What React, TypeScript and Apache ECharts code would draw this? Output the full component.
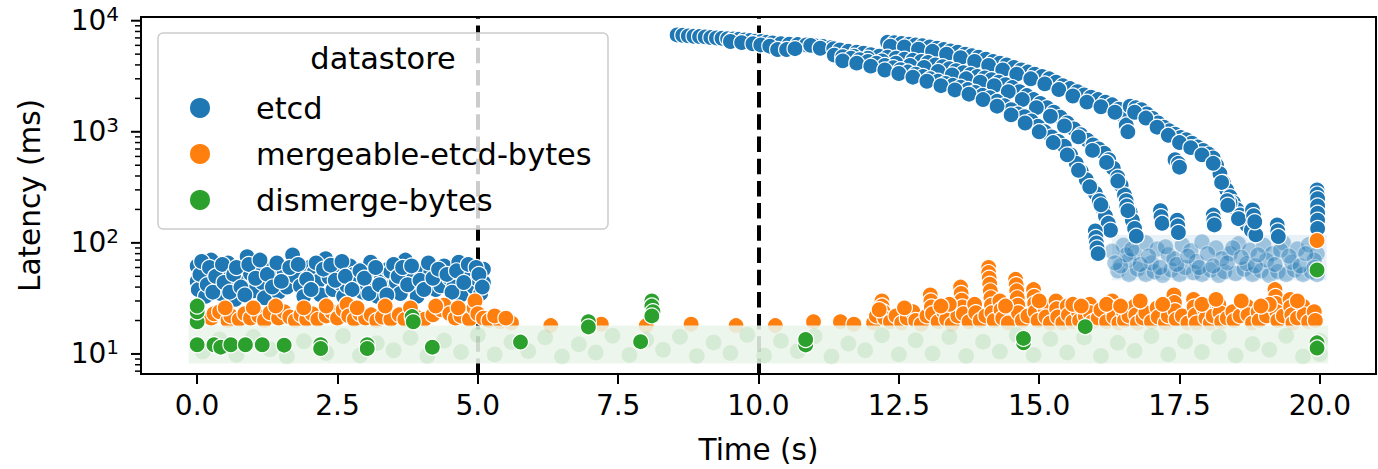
import { useEffect, useRef } from 'react';
import * as echarts from 'echarts';

const FONT = 'DejaVu Sans';
const TICK_FS = 28;
const NAME_FS = 29.5;
const LEGEND_FS = 30.4;
const BLUE = '#1f77b4';
const ORANGE = '#ff7f0e';
const GREEN = '#2ca02c';

const xTicks = [0, 2.5, 5, 7.5, 10, 12.5, 15, 17.5, 20];
const yMajorTicks = [10, 100, 1000, 10000];
const yMinorTicks = [7, 8, 9, 20, 30, 40, 50, 60, 70, 80, 90, 200, 300, 400, 500, 600, 700, 800, 900, 2000, 3000, 4000, 5000, 6000, 7000, 8000, 9000];
const phaseLines = [5, 10];

// etcd: warm-up cluster
const etcdEarly = [
  [0.0, 62], [0.0, 45], [0.02, 38], [0.1, 55], [0.15, 33], [0.2, 48], [0.25, 70], [0.3, 40], [0.36, 58], [0.42, 35],
  [0.5, 50], [0.55, 66], [0.6, 42], [0.68, 31], [0.75, 56], [0.8, 46], [0.89, 75], [0.95, 53], [1.0, 37], [1.08, 62],
  [1.16, 44], [1.2, 32], [1.3, 57], [1.38, 48], [1.45, 36], [1.55, 55], [1.6, 40], [1.7, 78], [1.75, 50], [1.84, 41],
  [1.9, 33], [2.0, 60], [2.08, 54], [2.15, 45], [2.2, 34], [2.29, 72], [2.35, 49], [2.42, 38], [2.5, 55], [2.55, 43],
  [2.61, 33], [2.67, 41], [2.72, 62], [2.79, 52], [2.85, 46], [2.95, 36], [3.03, 41], [3.09, 67], [3.15, 53], [3.21, 33],
  [3.28, 47], [3.33, 40], [3.4, 58], [3.45, 55], [3.55, 44], [3.62, 35], [3.71, 70], [3.78, 50], [3.86, 40], [3.92, 33],
  [4.0, 56], [4.08, 46], [4.16, 54], [4.25, 38], [4.34, 41], [4.4, 62], [4.5, 48], [4.57, 40], [4.66, 67], [4.7, 34],
  [4.8, 52], [4.87, 55], [4.93, 40], [5.0, 47], [5.05, 35], [5.1, 44], [5.1, 58],
];
const etcdEarlyMore = [
  [0.05, 52], [0.08, 68], [0.18, 42], [0.22, 60], [0.28, 36], [0.33, 50], [0.45, 64], [0.48, 44], [0.58, 36], [0.65, 52],
  [0.7, 60], [0.78, 40], [0.85, 34], [0.92, 64], [1.04, 48], [1.12, 70], [1.25, 52], [1.34, 40], [1.42, 66], [1.5, 45],
  [1.65, 60], [1.8, 64], [1.95, 47], [2.03, 38], [2.12, 66], [2.25, 58], [2.38, 63], [2.46, 46], [2.58, 68], [2.64, 50],
  [2.76, 38], [2.9, 56], [2.98, 48], [3.06, 35], [3.18, 60], [3.25, 42], [3.38, 34], [3.5, 64], [3.58, 50], [3.66, 60],
  [3.75, 42], [3.82, 62], [3.97, 46], [4.04, 38], [4.12, 66], [4.2, 48], [4.3, 58], [4.45, 52], [4.54, 36], [4.62, 56],
  [4.75, 44], [4.83, 64], [4.97, 60], [5.02, 52], [5.08, 40],
];
// etcd: the slow shared start after the restart
const etcdTrunk = [
  [8.55, 7450], [8.65, 7400], [8.75, 7300], [8.85, 7250], [8.95, 7200], [9.05, 7150], [9.15, 7050], [9.25, 7000],
  [9.35, 6950], [9.45, 6900], [9.55, 6850], [9.65, 6800], [9.75, 6700], [9.85, 6650], [9.95, 6550], [10.05, 6500],
  [10.15, 6400], [10.25, 6300], [10.4, 6200], [10.55, 6150], [10.7, 6100], [10.85, 6050], [11.0, 5950], [11.15, 5850],
  [11.3, 5750], [9.5, 6500], [9.7, 6350], [9.9, 6200], [10.04, 6050], [10.2, 5900], [10.34, 5500], [10.5, 5500],
  [10.65, 5600], [10.93, 6000], [11.1, 5650], [11.34, 5600],
];
const etcdArcA = [
  [12.3, 6400], [12.42, 6350], [12.55, 6250], [12.68, 6150], [12.8, 6050], [12.92, 5950], [13.05, 5800], [13.18, 5650],
  [13.3, 5500], [13.42, 5350], [13.55, 5200], [13.68, 5000], [13.8, 4850], [13.92, 4700], [14.05, 4500], [14.18, 4300],
  [14.3, 4150], [14.42, 4000], [14.55, 3800], [14.68, 3600], [14.8, 3450], [14.92, 3300], [15.05, 3150], [15.18, 3000],
  [15.3, 2800], [15.42, 2600], [15.55, 2450], [15.68, 2300], [15.8, 2150], [15.92, 2050], [16.05, 1950], [16.18, 1850],
  [16.3, 1750], [16.42, 1600], [16.5, 1400], [16.55, 1150], [16.58, 1000],
];
const etcdArcA2 = [
  [12.35, 5900], [12.6, 5800], [12.85, 5550], [13.1, 5300], [13.35, 5000], [13.6, 4650], [13.85, 4300], [14.1, 3950],
  [14.35, 3600], [14.6, 3300], [14.85, 3000], [15.1, 2700], [15.35, 2400], [15.6, 2100], [15.85, 1850], [16.1, 1680],
  [16.35, 1500],
];
const etcdArcD = [
  [16.62, 1700], [16.72, 1650], [16.82, 1580], [16.92, 1450], [17.02, 1320], [17.12, 1200], [17.22, 1100], [17.32, 1020],
  [17.42, 950], [17.52, 890], [17.62, 850], [17.72, 790], [17.82, 730], [17.92, 680], [18.02, 630], [18.1, 580],
  [18.16, 500], [18.22, 420], [18.28, 350], [18.34, 300], [18.4, 260], [18.46, 230], [18.52, 200], [18.58, 178],
  [18.64, 160], [18.7, 145], [18.78, 130], [18.86, 118], [17.42, 560], [17.48, 520], [17.5, 480],
];
const etcdArcD2 = [
  [16.7, 1500], [16.9, 1330], [17.1, 1100], [17.3, 930], [17.5, 800], [17.7, 720], [17.9, 620], [18.1, 520],
  [18.25, 350], [18.4, 230], [18.55, 165],
];
const etcdArcB = [
  [11.45, 5450], [11.6, 5300], [11.75, 5200], [11.87, 5100], [12.0, 4950], [12.15, 4800], [12.3, 4700], [12.45, 4600],
  [12.6, 4500], [12.75, 4400], [12.9, 4300], [13.02, 4200], [13.15, 4000], [13.28, 3850], [13.4, 3700], [13.52, 3550],
  [13.65, 3400], [13.78, 3280], [13.9, 3150], [14.03, 3050], [14.15, 2950], [14.28, 2800], [14.4, 2650], [14.52, 2500],
  [14.65, 2300], [14.78, 2120], [14.9, 1950], [15.02, 1800], [15.14, 1650], [15.26, 1500], [15.38, 1350], [15.5, 1200],
  [15.62, 1060], [15.74, 940], [15.86, 840], [15.96, 760], [16.06, 700], [16.16, 640], [16.24, 560], [16.32, 470],
  [16.4, 390], [16.46, 330], [16.52, 270], [16.57, 225], [16.62, 190], [16.66, 160], [16.7, 135], [16.73, 115],
];
const etcdArcB2 = [
  [11.7, 4800], [11.95, 4600], [12.2, 4350], [12.45, 4150], [12.7, 3950], [12.95, 3800], [13.2, 3500], [13.45, 3250],
  [13.7, 3000], [13.95, 2800], [14.2, 2600], [14.45, 2300], [14.7, 1950], [14.95, 1650], [15.2, 1380], [15.45, 1130],
  [15.7, 900], [15.95, 680], [16.2, 530], [16.4, 360], [16.55, 230],
];
const etcdArcC = [
  [11.35, 4900], [11.5, 4750], [11.65, 4600], [11.8, 4450], [11.95, 4300], [12.1, 4150], [12.25, 3950], [12.4, 3780],
  [12.53, 3620], [12.66, 3450], [12.8, 3300], [12.93, 3150], [13.06, 3000], [13.2, 2850], [13.33, 2720], [13.46, 2620],
  [13.6, 2520], [13.73, 2400], [13.86, 2260], [13.99, 2130], [14.12, 2030], [14.25, 1880], [14.38, 1720], [14.5, 1580],
  [14.62, 1450], [14.74, 1370], [14.86, 1250], [14.98, 1120], [15.1, 1000], [15.22, 900], [15.34, 820], [15.45, 740],
  [15.56, 620], [15.66, 520], [15.75, 440], [15.84, 370], [15.92, 320], [16.0, 280], [16.07, 240], [16.13, 205],
  [16.18, 175], [16.23, 150], [16.27, 130],
];
const etcdArcC2 = [
  [11.5, 4350], [11.75, 4150], [12.0, 3900], [12.25, 3600], [12.5, 3350], [12.75, 3100], [13.0, 2850], [13.25, 2600],
  [13.5, 2380], [13.75, 2180], [14.0, 1950], [14.25, 1700], [14.5, 1420], [14.75, 1200], [15.0, 1000], [15.25, 800],
  [15.5, 620], [15.7, 450], [15.9, 320], [16.1, 220],
];
const etcdTail = [
  [16.0, 128], [16.01, 112], [16.02, 100], [16.03, 90], [16.05, 80],
  [16.55, 240], [16.56, 215], [16.58, 195],
  [17.16, 195], [17.17, 172], [17.19, 150],
  [17.46, 160], [17.47, 142], [17.48, 124],
  [18.1, 178], [18.11, 160], [18.12, 145],
  [18.35, 240], [18.36, 218],
  [18.8, 198], [18.82, 176], [18.84, 155],
  [19.24, 145], [19.25, 128], [19.26, 114],
  [19.95, 300], [19.95, 275], [19.96, 250], [19.96, 215], [19.96, 185], [19.96, 160], [19.96, 135],
];
// etcd: the flat, heavily overplotted end of the run
const etcdFlat = [
  [16.4, 56], [16.6, 52], [16.75, 58], [16.9, 52], [17.05, 55], [17.2, 51], [17.35, 57], [17.5, 52], [17.6, 60],
  [17.75, 54], [17.9, 52], [18.05, 57], [18.2, 51], [18.3, 55], [18.5, 53], [18.65, 58], [18.8, 52], [18.95, 56],
  [19.1, 51], [19.25, 55], [19.4, 52], [19.55, 57], [19.7, 52], [19.85, 55], [19.95, 52],
  [16.5, 95], [16.7, 82], [16.9, 100], [17.1, 88], [17.3, 78], [17.55, 96], [17.7, 85], [17.9, 102], [18.15, 90],
  [18.4, 80], [18.55, 98], [18.75, 86], [19.0, 95], [19.15, 80], [19.35, 100], [19.6, 88], [19.8, 96], [19.95, 80],
  [16.6, 70], [17.0, 66], [17.4, 72], [17.8, 68], [18.25, 72], [18.7, 65], [19.05, 70], [19.5, 67], [19.9, 70],
];
const etcdFlatMore = [
  [16.45, 62], [16.55, 78], [16.65, 88], [16.8, 64], [16.95, 76], [17.15, 60], [17.25, 92], [17.45, 64], [17.65, 76],
  [17.85, 60], [18.0, 80], [18.1, 62], [18.35, 66], [18.45, 90], [18.6, 74], [18.85, 62], [18.9, 78], [19.2, 64],
  [19.3, 86], [19.45, 76], [19.65, 62], [19.75, 80], [19.9, 60], [16.3, 84], [16.35, 66],
];
const etcdFlatBand = [[16.3, 46], [20.12, 118]];

const mergeableEarly = [
  [0.25, 21], [0.3, 23], [0.4, 24], [0.55, 20], [0.6, 22], [0.75, 20.5], [0.85, 23], [0.95, 21], [1.1, 22],
  [1.2, 20], [1.3, 23.5], [1.45, 21], [1.55, 24], [1.65, 21.5], [1.75, 20], [1.85, 22.5], [1.95, 20.5], [2.05, 23],
  [2.15, 20.5], [2.3, 22], [2.4, 24], [2.5, 21], [2.6, 25], [2.67, 28], [2.7, 22], [2.8, 20.5], [2.9, 23],
  [3.0, 21], [3.1, 22.5], [3.2, 20], [3.3, 21.5], [3.45, 20.5], [3.6, 22.5], [3.7, 20.5], [3.9, 21.5], [4.05, 20.5],
  [4.2, 22.5], [4.35, 25], [4.4, 27.5], [4.5, 23], [4.6, 21], [4.7, 22], [4.85, 20.5], [4.93, 26], [4.95, 30],
  [5.0, 23], [5.1, 21], [5.2, 20], [5.4, 19.5], [5.6, 19],
  [0.5, 26], [1.0, 26], [1.4, 27], [1.9, 26], [2.3, 27], [2.85, 26], [3.35, 27], [3.8, 26], [4.25, 27], [4.65, 26],
  [5.3, 22], [5.5, 21],
];
const mergeableMid = [
  [6.3, 18], [7.2, 18.5], [8.0, 18], [8.8, 18.5], [9.6, 18], [10.3, 18], [10.98, 19.5], [11.46, 19.5], [11.7, 18.5],
];
const mergeableLate = [
  [12.05, 19], [12.1, 22], [12.2, 30], [12.2, 27], [12.22, 24], [12.25, 21], [12.35, 19.5], [12.45, 22], [12.55, 19],
  [12.65, 21], [12.75, 24], [12.8, 20], [12.9, 18.5], [13.0, 22], [13.06, 34], [13.07, 30], [13.08, 26.5], [13.1, 23],
  [13.2, 19.5], [13.3, 24], [13.35, 20.5], [13.45, 18.5], [13.55, 22], [13.6, 40], [13.61, 35], [13.62, 30.5],
  [13.63, 26.5], [13.65, 23], [13.75, 19.5], [13.85, 28], [13.87, 23.5], [13.95, 20], [14.05, 22], [14.1, 60],
  [14.1, 54], [14.11, 48], [14.12, 42.5], [14.13, 37], [14.14, 32], [14.15, 27.5], [14.16, 23.5], [14.2, 20],
  [14.3, 30], [14.32, 25], [14.35, 21], [14.45, 19], [14.58, 47], [14.59, 42], [14.6, 37], [14.61, 32], [14.62, 27.5],
  [14.63, 23.5], [14.7, 20], [14.8, 22], [14.9, 38], [14.91, 33], [14.92, 28.5], [14.93, 24], [14.98, 20], [15.1, 26],
  [15.12, 21.5], [15.2, 19], [15.3, 30], [15.31, 25.5], [15.33, 21.5], [15.42, 19], [15.5, 27], [15.52, 22.5],
  [15.6, 19.5], [15.7, 24], [15.72, 20], [15.82, 22], [15.9, 28], [15.91, 23.5], [15.95, 19.5], [16.05, 21], [16.1, 25],
  [16.2, 19.5], [16.3, 30], [16.31, 26], [16.33, 21.5], [16.42, 19], [16.5, 24], [16.52, 20], [16.6, 22], [16.7, 27],
  [16.72, 22.5], [16.75, 19], [16.85, 21], [16.9, 23.5], [17.0, 19.5], [17.1, 26], [17.12, 21.5], [17.25, 19],
  [17.3, 22], [17.4, 34], [17.41, 29], [17.42, 24.5], [17.44, 20.5], [17.55, 22], [17.65, 19], [17.75, 31],
  [17.76, 26.5], [17.78, 22.5], [17.8, 19], [17.95, 25], [17.97, 21], [18.05, 19], [18.1, 22], [18.2, 28], [18.22, 23.5],
  [18.25, 19.5], [18.35, 21], [18.45, 24], [18.47, 20], [18.58, 22], [18.7, 27], [18.72, 22.5], [18.8, 19], [18.9, 24],
  [18.92, 20], [19.05, 22], [19.2, 38], [19.21, 33], [19.22, 28.5], [19.23, 24], [19.25, 20], [19.35, 22], [19.47, 31],
  [19.48, 26.5], [19.5, 22.5], [19.52, 19], [19.6, 21], [19.7, 27], [19.72, 22.5], [19.8, 19.5], [19.9, 24],
  [19.92, 20], [19.95, 105],
  [12.6, 26], [13.4, 28], [14.4, 27], [15.0, 30], [15.6, 28], [16.2, 28], [16.8, 30], [17.2, 28], [17.9, 28],
  [18.6, 30], [19.1, 28], [19.6, 30], [12.15, 25], [13.25, 27], [15.75, 27], [16.45, 27], [18.15, 31], [18.95, 27],
];

const dismergeSolid = [
  [0.0, 12.1], [0.0, 19.5], [0.0, 24], [0.0, 27], [0.3, 12.1], [0.42, 11.5], [0.6, 12.1], [0.86, 12.1], [1.16, 12.1],
  [1.55, 12], [2.2, 12.1], [2.2, 11.2], [3.03, 12.1], [3.03, 11.2], [3.83, 21.7], [3.85, 19.5], [4.19, 11.5],
  [5.76, 12.8], [6.97, 19.5], [6.97, 17.5], [7.9, 12.9], [8.1, 30], [8.1, 27], [8.12, 24], [8.1, 22], [10.84, 12.05],
  [10.84, 13.5], [14.72, 12.6], [14.72, 13.8], [15.82, 17.6], [19.95, 12.6], [19.95, 11.3], [19.95, 57],
];
// dismerge-bytes: thousands of overlapping points at ~10 ms, shown as faint marks over a pale band
const dismergeFaint = [
  [0.1, 10.5], [0.4, 13.5], [0.7, 9.8], [1.0, 14.2], [1.3, 11], [1.6, 9.5], [1.9, 13], [2.3, 10.2], [2.6, 14.5],
  [2.9, 9.7], [3.2, 12.5], [3.5, 10.8], [3.8, 14], [4.1, 9.6], [4.4, 13.2], [4.7, 10.4], [5.0, 14.8], [5.3, 9.9],
  [5.6, 12.8], [5.9, 10.6], [6.2, 14.1], [6.5, 9.5], [6.8, 12.2], [7.1, 10.3], [7.4, 14.6], [7.7, 9.8], [8.0, 13.4],
  [8.3, 10.9], [8.6, 14.3], [8.9, 9.6], [9.2, 12.7], [9.5, 10.2], [9.8, 14.9], [10.1, 9.7], [10.4, 13.1], [10.7, 10.6],
  [11.0, 14.4], [11.3, 9.5], [11.6, 12.4], [11.9, 10.8], [12.2, 14.7], [12.5, 9.9], [12.8, 13.3], [13.1, 10.1],
  [13.4, 14.2], [13.7, 9.6], [14.0, 12.9], [14.3, 10.5], [14.6, 14.8], [14.9, 9.8], [15.2, 13.6], [15.5, 10.3],
  [15.8, 14.1], [16.1, 9.6], [16.4, 12.6], [16.7, 10.7], [17.0, 14.5], [17.3, 9.9], [17.6, 13.0], [17.9, 10.4],
  [18.2, 14.3], [18.5, 9.7], [18.8, 12.3], [19.1, 10.9], [19.4, 14.6], [19.7, 9.5], [20.0, 13.2], [20.0, 10.0],
];
const dismergeBand = [[-0.15, 8.2], [20.15, 18]];

const dot = (color: string, opacity = 1) => ({ color, opacity, borderColor: '#ffffff', borderWidth: 1.2 });

const tickSeries = (values: number[], len: number, width: number) => ({
  type: 'custom',
  silent: true,
  clip: false,
  z: 6,
  data: values.map((v) => [-1, v]),
  renderItem: (_p: any, api: any) => {
    const p = api.coord([api.value(0), api.value(1)]);
    return {
      type: 'line',
      shape: { x1: p[0] - len, y1: p[1], x2: p[0], y2: p[1] },
      style: { stroke: '#000', lineWidth: width },
    };
  },
});

export default function App() {
  const ref = useRef<HTMLDivElement>(null);
  useEffect(() => {
    const chart = echarts.init(ref.current!, null, { renderer: 'svg' });
    const tickText = { fontSize: TICK_FS, fontFamily: FONT, color: '#000' };
    const nameText = { fontSize: NAME_FS, fontFamily: FONT, color: '#000' };
    chart.setOption({
      animation: false,
      backgroundColor: '#ffffff',
      grid: {
        left: 141, right: 2, top: 17, bottom: 95, containLabel: false, outerBoundsMode: 'none',
        show: true, borderColor: '#000', borderWidth: 2, backgroundColor: 'transparent',
      },
      xAxis: {
        type: 'value', min: -1, max: 21,
        axisLine: { show: true, onZero: false, lineStyle: { color: '#000', width: 2 } },
        axisTick: { show: true, customValues: xTicks, length: 10, lineStyle: { color: '#000', width: 2 } },
        axisLabel: { customValues: xTicks, formatter: (v: number) => v.toFixed(1), margin: 17, ...tickText },
        splitLine: { show: false },
        name: 'Time (s)', nameLocation: 'middle', nameGap: 61, nameTextStyle: nameText,
      },
      yAxis: {
        type: 'log', logBase: 10, min: 6.6, max: 10800,
        axisLine: { show: true, onZero: false, lineStyle: { color: '#000', width: 2 } },
        axisTick: { show: false }, minorTick: { show: false },
        axisLabel: {
          showMinLabel: false, showMaxLabel: false, margin: 22,
          formatter: (v: number) => `{b|10}{s|${Math.round(Math.log10(v))}}`,
          rich: {
            b: { fontSize: TICK_FS, fontFamily: FONT, color: '#000', lineHeight: 34 },
            s: { fontSize: 20, fontFamily: FONT, color: '#000', lineHeight: 22, verticalAlign: 'top' },
          },
        },
        splitLine: { show: false },
        name: 'Latency (ms)', nameLocation: 'middle', nameGap: 96, nameTextStyle: nameText,
      },
      legend: {
        data: ['etcd', 'mergeable-etcd-bytes', 'dismerge-bytes'],
        orient: 'vertical', left: 188, top: 93, padding: 0,
        itemWidth: 22, itemHeight: 22, itemGap: 16, icon: 'circle', z: 12, selectedMode: false,
        textStyle: { fontSize: LEGEND_FS, fontFamily: FONT, color: '#000', padding: [0, 0, 0, 40] },
      },
      graphic: [
        {
          type: 'rect', z: 10, silent: true,
          shape: { x: 158, y: 33, width: 450, height: 196, r: 5 },
          style: { fill: 'rgba(255,255,255,0.8)', stroke: '#cccccc', lineWidth: 1.5 },
        },
        {
          type: 'text', z: 11, silent: true, x: 383, y: 58,
          style: { text: 'datastore', fontSize: LEGEND_FS, fontFamily: FONT, fill: '#000', align: 'center', verticalAlign: 'middle' },
        },
      ],
      series: [
        {
          type: 'scatter', name: 'phases', data: [], silent: true, z: 1,
          markLine: {
            silent: true, z: 1, symbol: ['none', 'none'], label: { show: false },
            lineStyle: { color: '#000', width: 4, type: [15.5, 6.7] },
            data: phaseLines.map((x) => ({ xAxis: x })),
          },
        },
        {
          type: 'scatter', name: 'etcd-flat', silent: true, z: 2, symbolSize: 16,
          itemStyle: dot(BLUE, 0.38),
          data: [...etcdFlat, ...etcdFlatMore],
          markArea: {
            silent: true, z: 1,
            itemStyle: { color: 'rgba(31,119,180,0.1)' },
            data: [[{ coord: etcdFlatBand[0] }, { coord: etcdFlatBand[1] }]],
          },
        },
        {
          type: 'scatter', name: 'etcd', silent: true, z: 2, symbolSize: 16,
          itemStyle: dot(BLUE),
          data: [
            ...etcdEarly, ...etcdEarlyMore, ...etcdTrunk, ...etcdArcA, ...etcdArcA2, ...etcdArcD, ...etcdArcD2,
            ...etcdArcB, ...etcdArcB2, ...etcdArcC, ...etcdArcC2, ...etcdTail,
          ],
        },
        {
          type: 'scatter', name: 'mergeable-etcd-bytes', silent: true, z: 2, symbolSize: 16,
          itemStyle: dot(ORANGE),
          data: [...mergeableEarly, ...mergeableMid, ...mergeableLate],
        },
        {
          type: 'scatter', name: 'dismerge-faint', silent: true, z: 3, symbolSize: 16,
          itemStyle: dot(GREEN, 0.12),
          data: dismergeFaint,
          markArea: {
            silent: true, z: 3,
            itemStyle: { color: '#ebf5eb', opacity: 0.88 },
            data: [[{ coord: dismergeBand[0] }, { coord: dismergeBand[1] }]],
          },
        },
        {
          type: 'scatter', name: 'dismerge-bytes', silent: true, z: 4, symbolSize: 16,
          itemStyle: dot(GREEN),
          data: dismergeSolid,
        },
        tickSeries(yMajorTicks, 10, 2),
        tickSeries(yMinorTicks, 6, 1.5),
      ],
    });
    return () => chart.dispose();
  }, []);
  return (
    <div
      ref={ref}
      style={{ position: 'absolute', left: 0, top: 0, width: 1378, height: 469, background: '#fff' }}
    />
  );
}
